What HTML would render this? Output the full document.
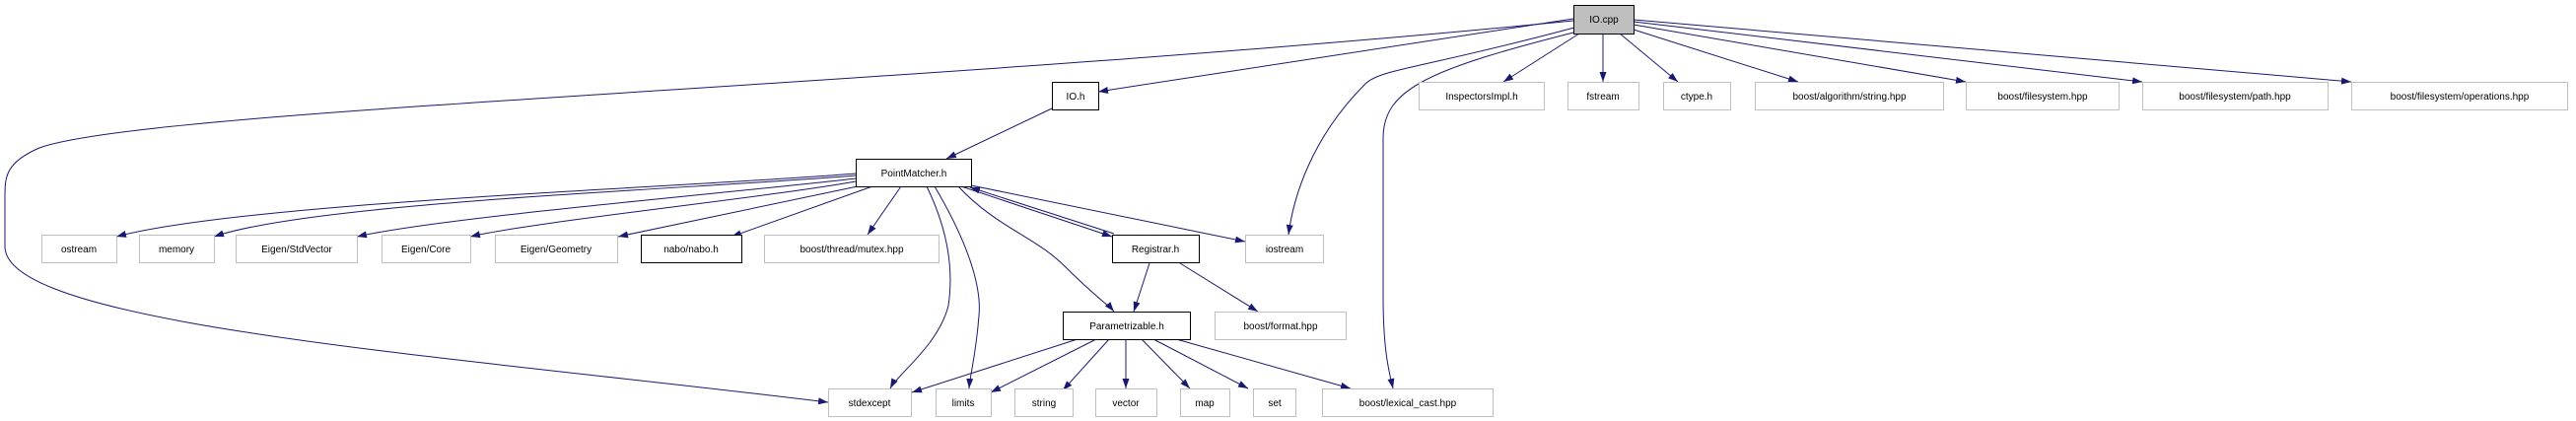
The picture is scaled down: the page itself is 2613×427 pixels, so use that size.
<!DOCTYPE html>
<html><head><meta charset="utf-8"><style>html,body{margin:0;padding:0;background:#fff}svg{display:block}text{font-family:"Liberation Sans",sans-serif;font-size:10px;fill:#000}</style></head><body>
<svg width="2613" height="427" viewBox="0 0 2613 427" xmlns="http://www.w3.org/2000/svg">
<defs><marker id="a" viewBox="0 0 10 10" refX="10" refY="5" markerWidth="10" markerHeight="10" markerUnits="userSpaceOnUse" orient="auto"><path d="M0,1.5 L10,5 L0,8.5 Z" fill="#191970"/></marker></defs>
<g fill="none" stroke="#191970" stroke-width="1" marker-end="url(#a)">
<path d="M1596,19 L1114,93"/>
<path d="M1596,21 C900,90 150,110 40,150 C5,165 5,180 5,200 L5,250 C5,330 450,360 840,408"/>
<path d="M1597,28 C1440,70 1400,70 1385,85 C1330,140 1312,200 1307,238"/>
<path d="M1600,32 C1450,70 1403,90 1403,140 L1403,300 C1403,360 1410,380 1413,394"/>
<path d="M1602,34 L1525,83"/>
<path d="M1626,34 L1626,83"/>
<path d="M1643,34 L1702,83"/>
<path d="M1657,30 L1824,83"/>
<path d="M1657,25 L1994,83"/>
<path d="M1657,22 L2173,83"/>
<path d="M1657,20 L2385,83"/>
<path d="M1067,110 L960,161"/>
<path d="M868,176 C700,190 250,205 118,240"/>
<path d="M868,178 C700,192 320,205 217,240"/>
<path d="M868,181 C750,195 450,220 362,240"/>
<path d="M868,184 C780,200 540,225 477,240"/>
<path d="M870,189 L627,240"/>
<path d="M885,189 L742,240"/>
<path d="M914,189 L880,238"/>
<path d="M940,189 C960,230 968,270 962,310 C952,350 910,380 903,394"/>
<path d="M948,189 C990,260 995,300 993,320 C990,360 984,380 983,394"/>
<path d="M975,189 L1128,240"/>
<path d="M1130,237 L984,190"/>
<path d="M972,189 C1010,230 1050,240 1080,270 C1110,300 1125,310 1130,316"/>
<path d="M985,188 L1263,245"/>
<path d="M1166,267 L1150,316"/>
<path d="M1197,267 L1276,316"/>
<path d="M1093,344 L925,398"/>
<path d="M1112,344 L1005,398"/>
<path d="M1125,344 L1078,396"/>
<path d="M1142,344 L1142,394"/>
<path d="M1158,344 L1207,394"/>
<path d="M1170,344 L1266,394"/>
<path d="M1193,344 L1370,394"/>
</g>
<g stroke-width="1">
<rect x="1596.5" y="5.5" width="61" height="29" fill="#bfbfbf" stroke="#000"/>
<g fill="#fff" stroke="#000">
<rect x="1067.5" y="83.5" width="47" height="28"/>
<rect x="868.5" y="161.5" width="117" height="28"/>
<rect x="650.5" y="238.5" width="102" height="28"/>
<rect x="1128.5" y="238.5" width="88" height="28"/>
<rect x="1078.5" y="316.5" width="129" height="28"/>
</g>
<g fill="#fff" stroke="#bfbfbf">
<rect x="1439.5" y="83.5" width="127" height="28"/>
<rect x="1590.5" y="83.5" width="72" height="28"/>
<rect x="1687.5" y="83.5" width="68" height="28"/>
<rect x="1780.5" y="83.5" width="191" height="28"/>
<rect x="1994.5" y="83.5" width="155" height="28"/>
<rect x="2173.5" y="83.5" width="188" height="28"/>
<rect x="2385.5" y="83.5" width="219" height="28"/>
<rect x="42.5" y="238.5" width="76" height="28"/>
<rect x="141.5" y="238.5" width="76" height="28"/>
<rect x="239.5" y="238.5" width="123" height="28"/>
<rect x="387.5" y="238.5" width="90" height="28"/>
<rect x="502.5" y="238.5" width="124" height="28"/>
<rect x="775.5" y="238.5" width="177" height="28"/>
<rect x="1263.5" y="238.5" width="79" height="28"/>
<rect x="1232.5" y="316.5" width="133" height="28"/>
<rect x="840.5" y="394.5" width="84" height="28"/>
<rect x="949.5" y="394.5" width="56" height="28"/>
<rect x="1029.5" y="394.5" width="59" height="28"/>
<rect x="1111.5" y="394.5" width="62" height="28"/>
<rect x="1197.5" y="394.5" width="50" height="28"/>
<rect x="1271.5" y="394.5" width="43" height="28"/>
<rect x="1341.5" y="394.5" width="173" height="28"/>
</g>
</g>
<g text-anchor="middle">
<text x="1627" y="23">IO.cpp</text>
<text x="1091" y="101">IO.h</text>
<text x="927" y="179">PointMatcher.h</text>
<text x="701" y="256">nabo/nabo.h</text>
<text x="1172" y="256">Registrar.h</text>
<text x="1143" y="334">Parametrizable.h</text>
<text x="1503" y="101">InspectorsImpl.h</text>
<text x="1626" y="101">fstream</text>
<text x="1721" y="101">ctype.h</text>
<text x="1876" y="101">boost/algorithm/string.hpp</text>
<text x="2072" y="101">boost/filesystem.hpp</text>
<text x="2267" y="101">boost/filesystem/path.hpp</text>
<text x="2495" y="101">boost/filesystem/operations.hpp</text>
<text x="80" y="256">ostream</text>
<text x="179" y="256">memory</text>
<text x="301" y="256">Eigen/StdVector</text>
<text x="432" y="256">Eigen/Core</text>
<text x="564" y="256">Eigen/Geometry</text>
<text x="864" y="256">boost/thread/mutex.hpp</text>
<text x="1303" y="256">iostream</text>
<text x="1299" y="334">boost/format.hpp</text>
<text x="882" y="412">stdexcept</text>
<text x="977" y="412">limits</text>
<text x="1059" y="412">string</text>
<text x="1142" y="412">vector</text>
<text x="1222" y="412">map</text>
<text x="1293" y="412">set</text>
<text x="1428" y="412">boost/lexical_cast.hpp</text>
</g>
</svg>
</body></html>
